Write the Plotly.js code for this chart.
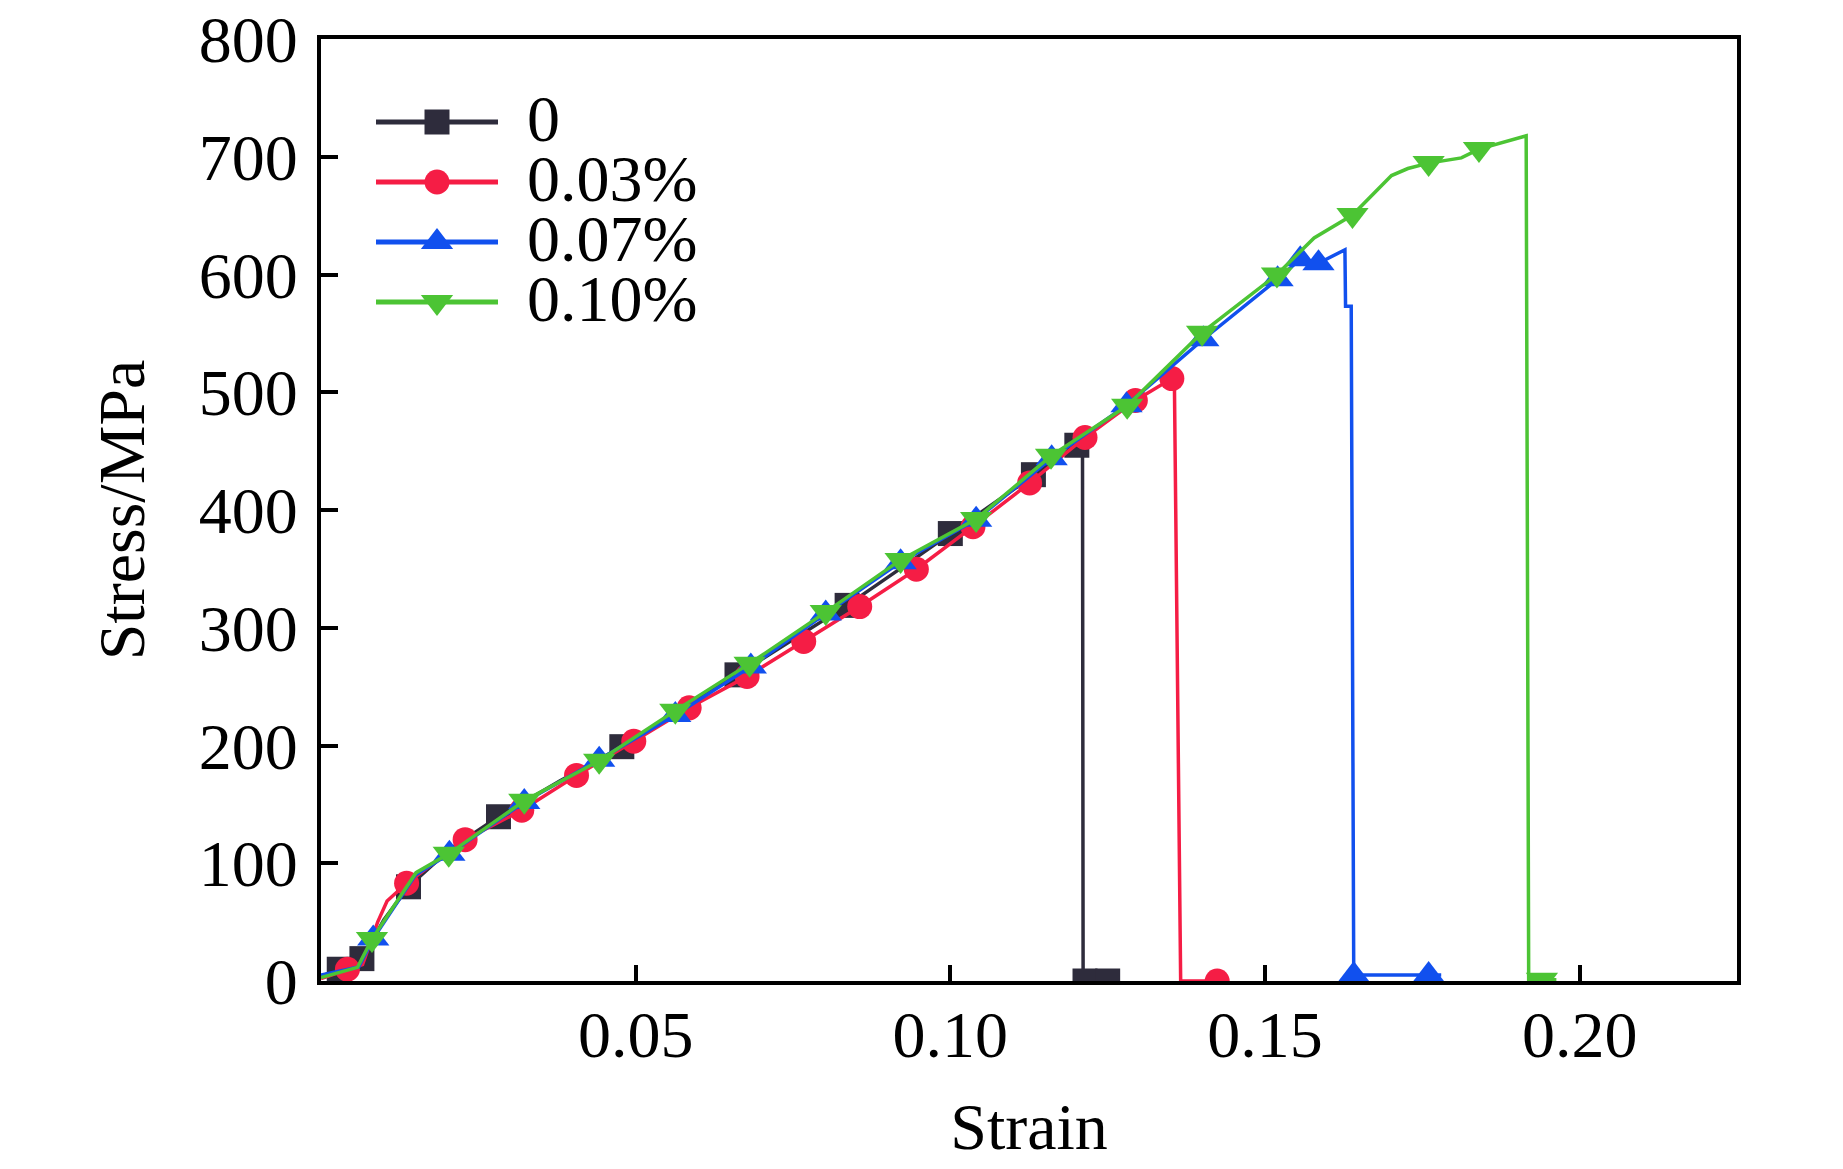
<!DOCTYPE html>
<html>
<head>
<meta charset="utf-8">
<script src="https://cdn.plot.ly/plotly-3.0.1.min.js"></script>
<style>
  html, body { margin: 0; padding: 0; background: #ffffff; }
  #chart { width: 1843px; height: 1169px; }
</style>
</head>
<body>
<div id="chart"></div>
<script>
// ---------- data ----------
const seriesNames = ['0', '0.03%', '0.07%', '0.10%'];

// 0
const strain0 = [0, 0.0029, 0.0065, 0.0100, 0.0139, 0.0205, 0.0282, 0.0380, 0.0478, 0.0565, 0.0661, 0.0750, 0.0836, 0.0920, 0.1000, 0.1132, 0.1201, 0.1210, 0.1211, 0.1214, 0.1250];
const stress0 = [4, 10, 19, 52, 80, 112, 139.5, 170, 199, 229, 260, 290, 319, 350, 380, 430, 455, 458, 0, 0, 0];
const mark0   = [0, 1, 1, 0, 1, 0, 1, 0, 1, 0, 1, 0, 1, 0, 1, 1, 1, 0, 0, 1, 1];

// 0.03%
const strain1 = [0, 0.0042, 0.0066, 0.0090, 0.0105, 0.0136, 0.0229, 0.0319, 0.0406, 0.0497, 0.0585, 0.0677, 0.0767, 0.0856, 0.0946, 0.1036, 0.1126, 0.1214, 0.1294, 0.1352, 0.1356, 0.1366, 0.1424];
const stress1 = [2, 10, 14, 50, 68, 83, 120, 145, 174.6, 203.6, 232, 258.7, 288.4, 318, 349.7, 385.8, 423, 461.6, 493, 511.6, 510, 0, 0];
const mark1   = [0, 1, 0, 0, 0, 1, 1, 1, 1, 1, 1, 1, 1, 1, 1, 1, 1, 1, 1, 1, 0, 0, 1];

// 0.07%
const strain2 = [0, 0.0060, 0.0083, 0.0150, 0.0204, 0.0323, 0.0442, 0.0563, 0.0683, 0.0802, 0.0921, 0.1041, 0.1161, 0.1280, 0.1402, 0.1520, 0.1556, 0.1585, 0.1627, 0.1628, 0.1637, 0.1641, 0.1760, 0.1780];
const stress2 = [5, 12, 36, 90, 108, 152, 188, 226, 267, 312, 355.7, 391.8, 444, 489, 545, 596, 613, 609.6, 621, 573, 573, 5, 5, 5];
const mark2   = [0, 0, 1, 0, 1, 1, 1, 1, 1, 1, 1, 1, 1, 1, 1, 1, 1, 1, 0, 0, 0, 1, 1, 0];

// 0.10%
const strain3 = [0, 0.0058, 0.0081, 0.0151, 0.0203, 0.0323, 0.0442, 0.0563, 0.0681, 0.0802, 0.0921, 0.1041, 0.1160, 0.1281, 0.1400, 0.1519, 0.1578, 0.1639, 0.1701, 0.1727, 0.1760, 0.1812, 0.1840, 0.1868, 0.1913, 0.1915, 0.1919, 0.1940, 0.1963];
const stress3 = [3, 11.6, 35.6, 92, 108, 153, 187, 229.6, 269.5, 313.3, 357.6, 392.4, 446, 488.5, 550.6, 600, 631, 650.5, 684, 690, 694.6, 699, 706.5, 710.7, 717.8, 717.8, 1, 1, 1];
const mark3   = [0, 0, 1, 0, 1, 1, 1, 1, 1, 1, 1, 1, 1, 1, 1, 1, 0, 1, 0, 0, 1, 0, 1, 0, 0, 0, 0, 1, 0];

const xTickVals = [0.05, 0.10, 0.15, 0.20];
const xTickText = ['0.05', '0.10', '0.15', '0.20'];
const yTickVals = [0, 100, 200, 300, 400, 500, 600, 700, 800];
const yTickText = ['0', '100', '200', '300', '400', '500', '600', '700', '800'];

// ---------- styling ----------
const FONT = '"Liberation Serif", "Times New Roman", Times, serif';
const colors  = ['#2e2c3c', '#f51d45', '#1150ee', '#4cc434'];
const symbols = ['square', 'circle', 'triangle-up', 'triangle-down'];
const msizes  = [25, 25, 28, 28];

const xs = [strain0, strain1, strain2, strain3];
const ys = [stress0, stress1, stress2, stress3];
const ms = [mark0, mark1, mark2, mark3];

const traces = xs.map((x, i) => ({
  type: 'scatter',
  mode: 'lines+markers',
  name: seriesNames[i],
  x: x,
  y: ys[i],
  line: { color: colors[i], width: 3.5 },
  marker: {
    symbol: symbols[i],
    color: colors[i],
    opacity: 1,
    size: ms[i].map(m => m ? msizes[i] : 0),
    line: { width: 0 }
  },
  cliponaxis: true
}));

const axisCommon = {
  showline: true, linewidth: 4, linecolor: '#000', mirror: true,
  ticks: 'inside', tickwidth: 4, tickcolor: '#000',
  showgrid: false, zeroline: false, automargin: false,
  tickfont: { family: FONT, size: 66, color: '#000' }
};

const layout = {
  width: 1843, height: 1169,
  margin: { l: 321, r: 106, t: 39, b: 188 },
  paper_bgcolor: '#ffffff', plot_bgcolor: '#ffffff',
  font: { family: FONT, size: 66, color: '#000' },
  showlegend: true,
  xaxis: Object.assign({}, axisCommon, {
    range: [0, 0.225], ticklen: 16,
    tickmode: 'array', tickvals: xTickVals, ticktext: xTickText,
    ticklabelstandoff: -7,
    title: { text: 'Strain', font: { family: FONT, size: 66, color: '#000' }, standoff: 34 }
  }),
  yaxis: Object.assign({}, axisCommon, {
    range: [0, 800], ticklen: 17,
    tickmode: 'array', tickvals: yTickVals, ticktext: yTickText,
    ticklabelstandoff: 6,
    title: { text: 'Stress/MPa', font: { family: FONT, size: 66, color: '#000' }, standoff: 34 }
  }),
  legend: {
    x: 0, y: 1, xanchor: 'left', yanchor: 'top',
    bgcolor: 'rgba(0,0,0,0)', borderwidth: 0,
    font: { family: FONT, size: 66, color: '#000' },
    itemsizing: 'constant', itemwidth: 122, tracegroupgap: 0
  }
};

function tuneLegend(gd) {
  const leg = gd.querySelector('g.legend');
  if (!leg) return;
  leg.setAttribute('transform', 'translate(376,38)');
  const sb = leg.querySelector('g.scrollbox');
  if (sb) { sb.removeAttribute('clip-path'); sb.setAttribute('transform', 'translate(0,0)'); }
  leg.querySelectorAll('g.traces').forEach((g, i) => {
    g.setAttribute('transform', 'translate(0,' + (84 + 60 * i) + ')');
    const ln = g.querySelector('path.js-line');
    if (ln) ln.setAttribute('d', 'M0,0h122');
    g.querySelectorAll('path.scatterpts').forEach(p => {
      p.setAttribute('transform', 'translate(61,0) scale(' + (msizes[i] / 12) + ')');
      p.style.opacity = 1;
    });
    const t = g.querySelector('text.legendtext');
    if (t) {
      t.setAttribute('x', 151); t.setAttribute('y', 19);
      t.querySelectorAll('tspan.line').forEach(s => { s.setAttribute('x', 151); });
    }
  });
}

Plotly.newPlot('chart', traces, layout, { displayModeBar: false, staticPlot: true, responsive: false })
  .then(gd => tuneLegend(gd));
</script>
</body>
</html>
